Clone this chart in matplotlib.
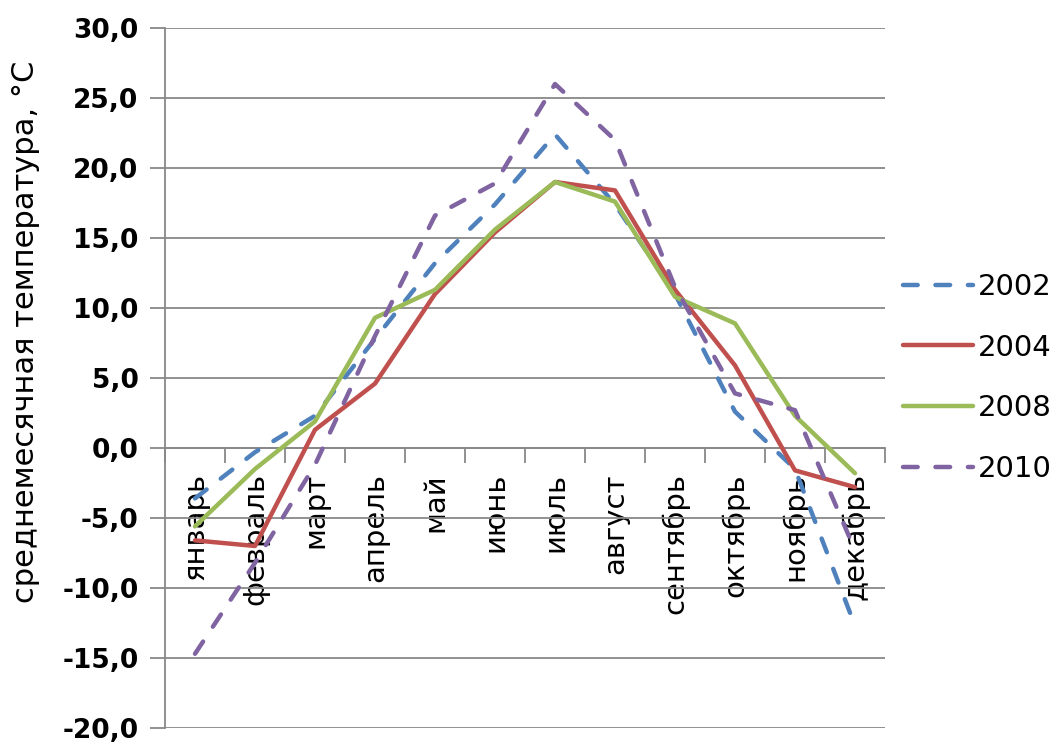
import numpy as np
import matplotlib
matplotlib.use("Agg")
from matplotlib import pyplot as plt

months = ["январь", "февраль", "март", "апрель", "май", "июнь",
          "июль", "август", "сентябрь", "октябрь", "ноябрь", "декабрь"]

t2002 = [-3.6, -0.3, 2.3, 7.8, 13.2, 17.4, 22.4, 17.4, 11.0, 2.6, -1.5, -12.7]
t2004 = [-6.6, -7.0, 1.3, 4.6, 11.0, 15.4, 19.0, 18.4, 11.3, 5.9, -1.6, -2.8]
t2008 = [-5.6, -1.5, 1.9, 9.3, 11.3, 15.6, 19.0, 17.6, 10.8, 8.9, 2.3, -1.8]
t2010 = [-14.7, -8.2, -1.2, 8.0, 16.6, 18.9, 26.0, 22.0, 11.5, 3.9, 2.7, -7.3]

yticks = np.arange(-20, 31, 5)

plt.rcParams['font.family'] = ['DejaVu Sans']

figure = plt.figure(figsize=(10.6, 7.42), dpi=100)
axis = figure.add_axes([165 / 1060, 14 / 742, 720 / 1060, 700 / 742])

x = np.arange(len(months))
lw = 3.2
axis.plot(x, t2002, color="#4F81BD", lw=lw, dashes=(3.3, 4.0),
          dash_capstyle="round", label="2002", zorder=3)
axis.plot(x, t2004, color="#C0504D", lw=lw, solid_capstyle="round",
          label="2004", zorder=3)
axis.plot(x, t2008, color="#9BBB59", lw=lw, solid_capstyle="round",
          label="2008", zorder=3)
axis.plot(x, t2010, color="#8064A2", lw=lw, dashes=(3.3, 4.0),
          dash_capstyle="round", label="2010", zorder=3)

gridcolor = "#888888"
axis.set_ylim(-20, 30)
axis.set_xlim(-0.5, len(months) - 0.5)
axis.set_yticks(yticks)
axis.set_yticklabels([f"{v:.1f}".replace(".", ",") for v in yticks],
                     fontsize=19, fontweight="bold")
axis.yaxis.grid(True, color=gridcolor, lw=1.3)
axis.set_axisbelow(True)

# category boundaries as ticks, labels at the centres
axis.set_xticks(np.arange(len(months) + 1) - 0.5)
axis.set_xticklabels([])
axis.set_xticks(x, minor=True)
axis.set_xticklabels(months, minor=True)
axis.tick_params(axis="x", which="minor", length=0, pad=18,
                 labelsize=21, labelrotation=90)
for lbl in axis.get_xticklabels(minor=True):
    lbl.set_va("top")
    lbl.set_ha("center")
axis.tick_params(axis="x", which="major", length=11, width=1.3,
                 color=gridcolor, direction="out")
axis.tick_params(axis="y", length=11, width=1.3, color=gridcolor, pad=8)

axis.spines["bottom"].set_position(("data", 0))
axis.spines["bottom"].set_color(gridcolor)
axis.spines["bottom"].set_linewidth(1.3)
axis.spines["left"].set_color(gridcolor)
axis.spines["left"].set_linewidth(1.3)
axis.spines["top"].set_visible(False)
axis.spines["right"].set_visible(False)

axis.set_ylabel("среднемесячная температура, °C", fontsize=22,
                va="center")
axis.yaxis.set_label_coords(-0.194, 0.566)

axis.legend(loc="center left", bbox_to_anchor=(1.0, 0.5), frameon=False,
            fontsize=21, handlelength=2.4, handletextpad=0.2,
            labelspacing=1.12, borderaxespad=0.4, borderpad=0.2)

figure.savefig("out.png", dpi=100)
